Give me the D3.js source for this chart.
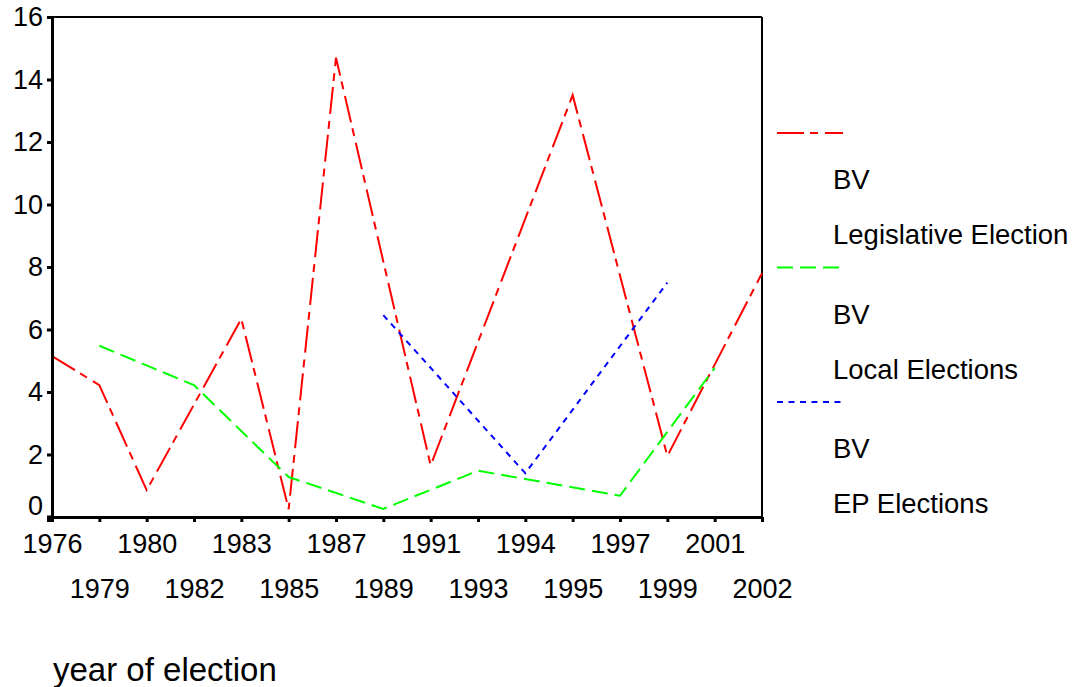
<!DOCTYPE html>
<html lang="en">
<head>
  <meta charset="UTF-8">
  <title>BV by year of election</title>
  <script src="https://cdnjs.cloudflare.com/ajax/libs/d3/7.8.5/d3.min.js"></script>
  <style>
    body {
      margin: 0;
      padding: 0;
      background: #fff;
    }
    svg {
      display: block;
      font-family: Arial, "Liberation Sans", sans-serif;
    }
  </style>
</head>
<body>

<svg id="chart" width="1078" height="687"></svg>

<script>
  // Category axis (SPSS style: every election year is one slot)
  const years = ["1976", "1979", "1980", "1982", "1983", "1985", "1987", "1989",
                 "1991", "1993", "1994", "1995", "1997", "1999", "2001", "2002"];
  const yTicks = [0, 2, 4, 6, 8, 10, 12, 14, 16];

  // Legislative elections
  const legYears = ["1976", "1979", "1980", "1983", "1985", "1987", "1991", "1995", "1999", "2002"];
  const legBV    = [5.15, 4.22, 0.86, 6.34, 0.25, 14.7, 1.65, 13.5, 1.95, 7.8];

  // Local elections
  const localYears = ["1979", "1982", "1985", "1989", "1993", "1997", "2001"];
  const localBV    = [5.48, 4.22, 1.28, 0.26, 1.48, 0.68, 4.77];

  // European Parliament elections
  const epYears = ["1989", "1994", "1999"];
  const epBV    = [6.46, 1.4, 7.5];

  const legendNames = ["Legislative Election", "Local Elections", "EP Elections"];

  const svg = d3.select("#chart");
  const margin = { left: 52, right: 316, top: 17, bottom: 170 };
  const width = +svg.attr("width"), height = +svg.attr("height");
  const x0 = margin.left, x1 = width - margin.right,
        y0 = height - margin.bottom, y1 = margin.top;

  const x = d3.scalePoint().domain(years).range([x0, x1]).padding(0);
  const y = d3.scaleLinear().domain([0, 16]).range([y0, y1]);

  const series = [
    { years: legYears,   values: legBV,   color: "#ff0000", dash: "27,6,8,7" },
    { years: localYears, values: localBV, color: "#00ff00", dash: "16,7" },
    { years: epYears,    values: epBV,    color: "#0000ff", dash: "6,5.5" }
  ];

  // frame (top and right)
  svg.append("line")
    .attr("x1", x0).attr("x2", x1).attr("y1", y1).attr("y2", y1)
    .attr("stroke", "#000").attr("stroke-width", 2);
  svg.append("line")
    .attr("x1", x1).attr("x2", x1).attr("y1", y1).attr("y2", y0)
    .attr("stroke", "#000").attr("stroke-width", 2);

  // series lines
  const line = d3.line()
    .x(d => x(d[0]))
    .y(d => y(d[1]));

  series.forEach(s => {
    svg.append("path")
      .datum(d3.zip(s.years, s.values))
      .attr("d", line)
      .attr("fill", "none")
      .attr("stroke", s.color)
      .attr("stroke-width", 2)
      .attr("stroke-dasharray", s.dash);
  });

  // y axis
  const gy = svg.append("g")
    .attr("transform", `translate(${x0},0)`)
    .call(d3.axisLeft(y).tickValues(yTicks).tickSize(5).tickSizeOuter(0).tickPadding(4));
  gy.select(".domain").attr("stroke-width", 3);
  gy.selectAll(".tick line").attr("stroke-width", 3);
  gy.selectAll("text")
    .attr("font-size", 27)
    .attr("fill", "#000")
    .attr("font-family", "Arial, 'Liberation Sans', sans-serif")
    .attr("y", d => d === 0 ? -11 : 0);

  // x axis, labels staggered on two rows
  const gx = svg.append("g")
    .attr("transform", `translate(0,${y0})`)
    .call(d3.axisBottom(x).tickSize(5).tickSizeOuter(0));
  gx.select(".domain").attr("stroke-width", 3);
  gx.selectAll(".tick line").attr("stroke-width", 3);
  gx.selectAll("text")
    .attr("font-size", 27)
    .attr("fill", "#000")
    .attr("font-family", "Arial, 'Liberation Sans', sans-serif")
    .attr("dy", null)
    .attr("y", (d, i) => i % 2 === 0 ? 36 : 81);

  // corner block
  svg.append("rect")
    .attr("x", x0 - 5).attr("y", y0 - 1.5)
    .attr("width", 6.5).attr("height", 6.5)
    .attr("fill", "#000");

  // x title
  svg.append("text")
    .attr("x", 53)
    .attr("y", 681)
    .attr("font-size", 33)
    .text("year of election");

  // legend
  const legend = svg.append("g").attr("transform", "translate(777,133)");
  series.forEach((s, i) => {
    const g = legend.append("g").attr("transform", `translate(0,${i * 134.5})`);
    g.append("line")
      .attr("x1", 0).attr("x2", 66)
      .attr("y1", 0).attr("y2", 0)
      .attr("stroke", s.color)
      .attr("stroke-width", 2)
      .attr("stroke-dasharray", s.dash);
    g.append("text")
      .attr("x", 56).attr("y", 56)
      .attr("font-size", 27.5)
      .text("BV");
    g.append("text")
      .attr("x", 56).attr("y", 111)
      .attr("font-size", 27.5)
      .text(legendNames[i]);
  });
</script>

</body>
</html>
